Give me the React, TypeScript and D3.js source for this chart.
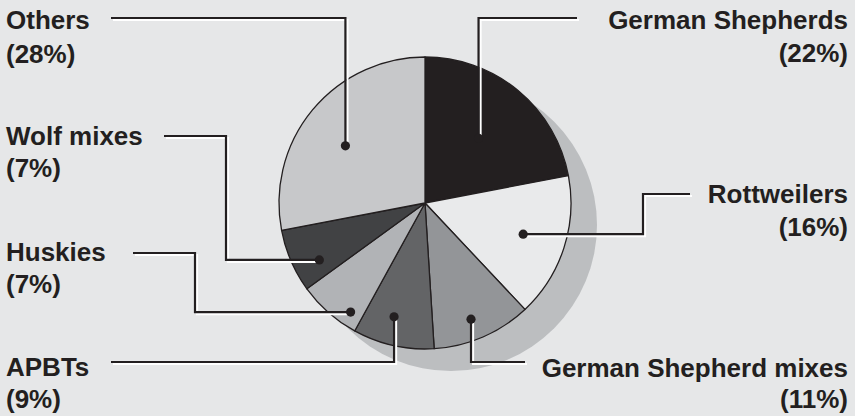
import React from 'react';
import * as d3 from 'd3';

// breeds responsible for fatal attacks, share of total (%)
const breeds = ['German Shepherds', 'Rottweilers', 'German Shepherd mixes', 'APBTs', 'Huskies', 'Wolf mixes', 'Others'];
const shares = [22, 16, 11, 9, 7, 7, 28];
const sliceColors = ['#231f20', '#e9eaeb', '#939598', '#636466', '#b1b3b6', '#414244', '#c7c8ca'];

const W = 855;
const H = 416;
const cx = 425;
const cy = 203;
const R = 146;
const ink = '#231f20';

// leader routing: dot radius, angle tweak (deg), route, label placement
type Leader = {
  r: number;
  da: number;
  route: 'v' | 'h';
  elbowX?: number;
  turnY?: number;
  lineY?: number;
  endX: number;
  side: 'left' | 'right';
  y1: number;
  y2: number;
};

const leaders: Leader[] = [
  { r: 84, da: 0, route: 'v', lineY: 18, endX: 577, side: 'right', y1: 29, y2: 62 },
  { r: 103, da: -0.4, route: 'h', elbowX: 643, turnY: 194, endX: 690, side: 'right', y1: 203, y2: 236 },
  { r: 125, da: 1.8, route: 'v', lineY: 362, endX: 525, side: 'right', y1: 377, y2: 408 },
  { r: 118, da: 2.6, route: 'v', lineY: 362, endX: 111, side: 'left', y1: 376, y2: 408 },
  { r: 132, da: -7.1, route: 'h', elbowX: 195, turnY: 253, endX: 133, side: 'left', y1: 261, y2: 293 },
  { r: 120, da: -4.9, route: 'h', elbowX: 226, turnY: 136, endX: 164, side: 'left', y1: 145, y2: 177 },
  { r: 98, da: -3.9, route: 'v', lineY: 18, endX: 111, side: 'left', y1: 29, y2: 63 },
];

const items = breeds.map((name, i) => ({ name, value: shares[i], color: sliceColors[i] }));

export default function App() {
  const pie = d3.pie<(typeof items)[number]>().value(d => d.value).sort(null);
  const arcs = pie(items);
  const arc = d3.arc<d3.PieArcDatum<(typeof items)[number]>>().innerRadius(0).outerRadius(R);
  const line = d3.line();

  const leaderPaths = arcs.map((a, i) => {
    const L = leaders[i];
    const ang = (a.startAngle + a.endAngle) / 2 + (L.da * Math.PI) / 180;
    const dx = cx + L.r * Math.sin(ang);
    const dy = cy - L.r * Math.cos(ang);
    let pts: [number, number][];
    if (L.route === 'v') {
      pts = [[dx, dy], [dx, L.lineY!], [L.endX, L.lineY!]];
    } else {
      pts = [[dx, dy], [L.elbowX!, dy], [L.elbowX!, L.turnY!], [L.endX, L.turnY!]];
    }
    return { pts, dot: [dx, dy] as [number, number], L, name: a.data.name, value: a.data.value };
  });

  return (
    <svg width={W} height={H} style={{ position: 'absolute', left: 0, top: 0, background: '#e6e7e8' }}
      fontFamily="'Liberation Sans', Arial, Helvetica, sans-serif">
      <rect width={W} height={H} fill="#e6e7e8" />
      <circle cx={cx + 26} cy={cy + 22} r={R} fill="#bcbec0" />
      <g transform={`translate(${cx},${cy})`}>
        {arcs.map((a, i) => (
          <path key={i} d={arc(a) || ''} fill={a.data.color} stroke={ink} strokeWidth={1.3} strokeLinejoin="round" />
        ))}
      </g>
      {leaderPaths.map((p, i) => (
        <path key={'w' + i} d={line(p.pts.map(([x, y]) => [x + 2, y + 2]) as [number, number][]) || ''}
          fill="none" stroke="#ffffff" strokeWidth={2.2} />
      ))}
      {leaderPaths.map((p, i) => (
        <path key={'b' + i} d={line(p.pts) || ''} fill="none" stroke={ink} strokeWidth={2.2} />
      ))}
      {leaderPaths.map((p, i) => (
        <circle key={'d' + i} cx={p.dot[0]} cy={p.dot[1]} r={4.6} fill={ink} />
      ))}
      {leaderPaths.map((p, i) => {
        const right = p.L.side === 'right';
        const x = right ? 848 : 6;
        return (
          <g key={'t' + i} fill={ink} fontWeight="bold" fontSize={26} textAnchor={right ? 'end' : 'start'}>
            <text x={x} y={p.L.y1}>{p.name}</text>
            <text x={x} y={p.L.y2}>{`(${p.value}%)`}</text>
          </g>
        );
      })}
    </svg>
  );
}
